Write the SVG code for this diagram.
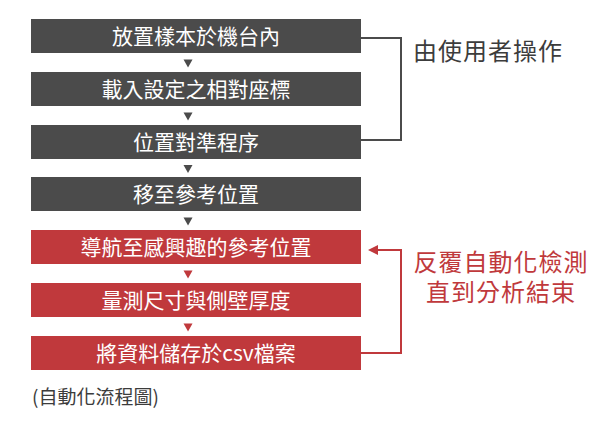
<svg xmlns="http://www.w3.org/2000/svg" width="611" height="423" viewBox="0 0 611 423">
<style>
.box-g{fill:#4b4b4b;}
.box-r{fill:#c0393c;}
.bt{font-family:"Noto Sans CJK TC","Noto Sans CJK SC",sans-serif;font-size:21px;fill:#ffffff;text-anchor:middle;}
.tri-g{fill:#4b4b4b;}
.tri-r{fill:#c0393c;}
.lbl-g{font-family:"Noto Sans CJK TC","Noto Sans CJK SC",sans-serif;font-size:24px;fill:#3c3c3c;letter-spacing:1px;}
.lbl-r{font-family:"Noto Sans CJK TC","Noto Sans CJK SC",sans-serif;font-size:24px;fill:#c0393c;text-anchor:middle;letter-spacing:1px;}
.cap{font-family:"Noto Sans CJK TC","Noto Sans CJK SC",sans-serif;font-size:19px;fill:#3c3c3c;}
</style>
<g id="connectors">
<polygon class="tri-g" points="183.5,59.5 192.5,59.5 188,67.5"/>
<polygon class="tri-g" points="183.5,112.5 192.5,112.5 188,120.5"/>
<polygon class="tri-g" points="183.5,165 192.5,165 188,173"/>
<polygon class="tri-g" points="183.5,217.5 192.5,217.5 188,225.5"/>
<polygon class="tri-r" points="183.5,270.5 192.5,270.5 188,278.5"/>
<polygon class="tri-r" points="183.5,323.5 192.5,323.5 188,331.5"/>
<polyline points="361,38 401,38 401,140 361,140" fill="none" stroke="#4b4b4b" stroke-width="2"/>
<polyline points="361,353 401,353 401,250 376,250" fill="none" stroke="#c0393c" stroke-width="2"/>
<polygon points="368,250 378,245 378,255" fill="#c0393c"/>
</g>
<g id="n1"><rect class="box-g" x="31" y="19" width="330" height="34"/><text class="bt" x="196" y="43.5">放置樣本於機台內</text></g>
<g id="n2"><rect class="box-g" x="31" y="72" width="330" height="34"/><text class="bt" x="196" y="96.5">載入設定之相對座標</text></g>
<g id="n3"><rect class="box-g" x="31" y="125" width="330" height="34"/><text class="bt" x="196" y="149.5">位置對準程序</text></g>
<g id="n4"><rect class="box-g" x="31" y="177" width="330" height="34"/><text class="bt" x="196" y="201.5">移至參考位置</text></g>
<g id="n5"><rect class="box-r" x="31" y="230" width="330" height="34"/><text class="bt" x="196" y="254.5">導航至感興趣的參考位置</text></g>
<g id="n6"><rect class="box-r" x="31" y="283" width="330" height="34"/><text class="bt" x="196" y="307.5">量測尺寸與側壁厚度</text></g>
<g id="n7"><rect class="box-r" x="31" y="336" width="330" height="34"/><text class="bt" x="196" y="360.5">將資料儲存於csv檔案</text></g>
<g id="label-user"><text class="lbl-g" x="413" y="60">由使用者操作</text></g>
<g id="label-auto"><text class="lbl-r"><tspan x="501" y="271">反覆自動化檢測</tspan><tspan x="501" y="301">直到分析結束</tspan></text></g>
<g id="caption"><text class="cap" x="32" y="404">(自動化流程圖)</text></g>
</svg>
